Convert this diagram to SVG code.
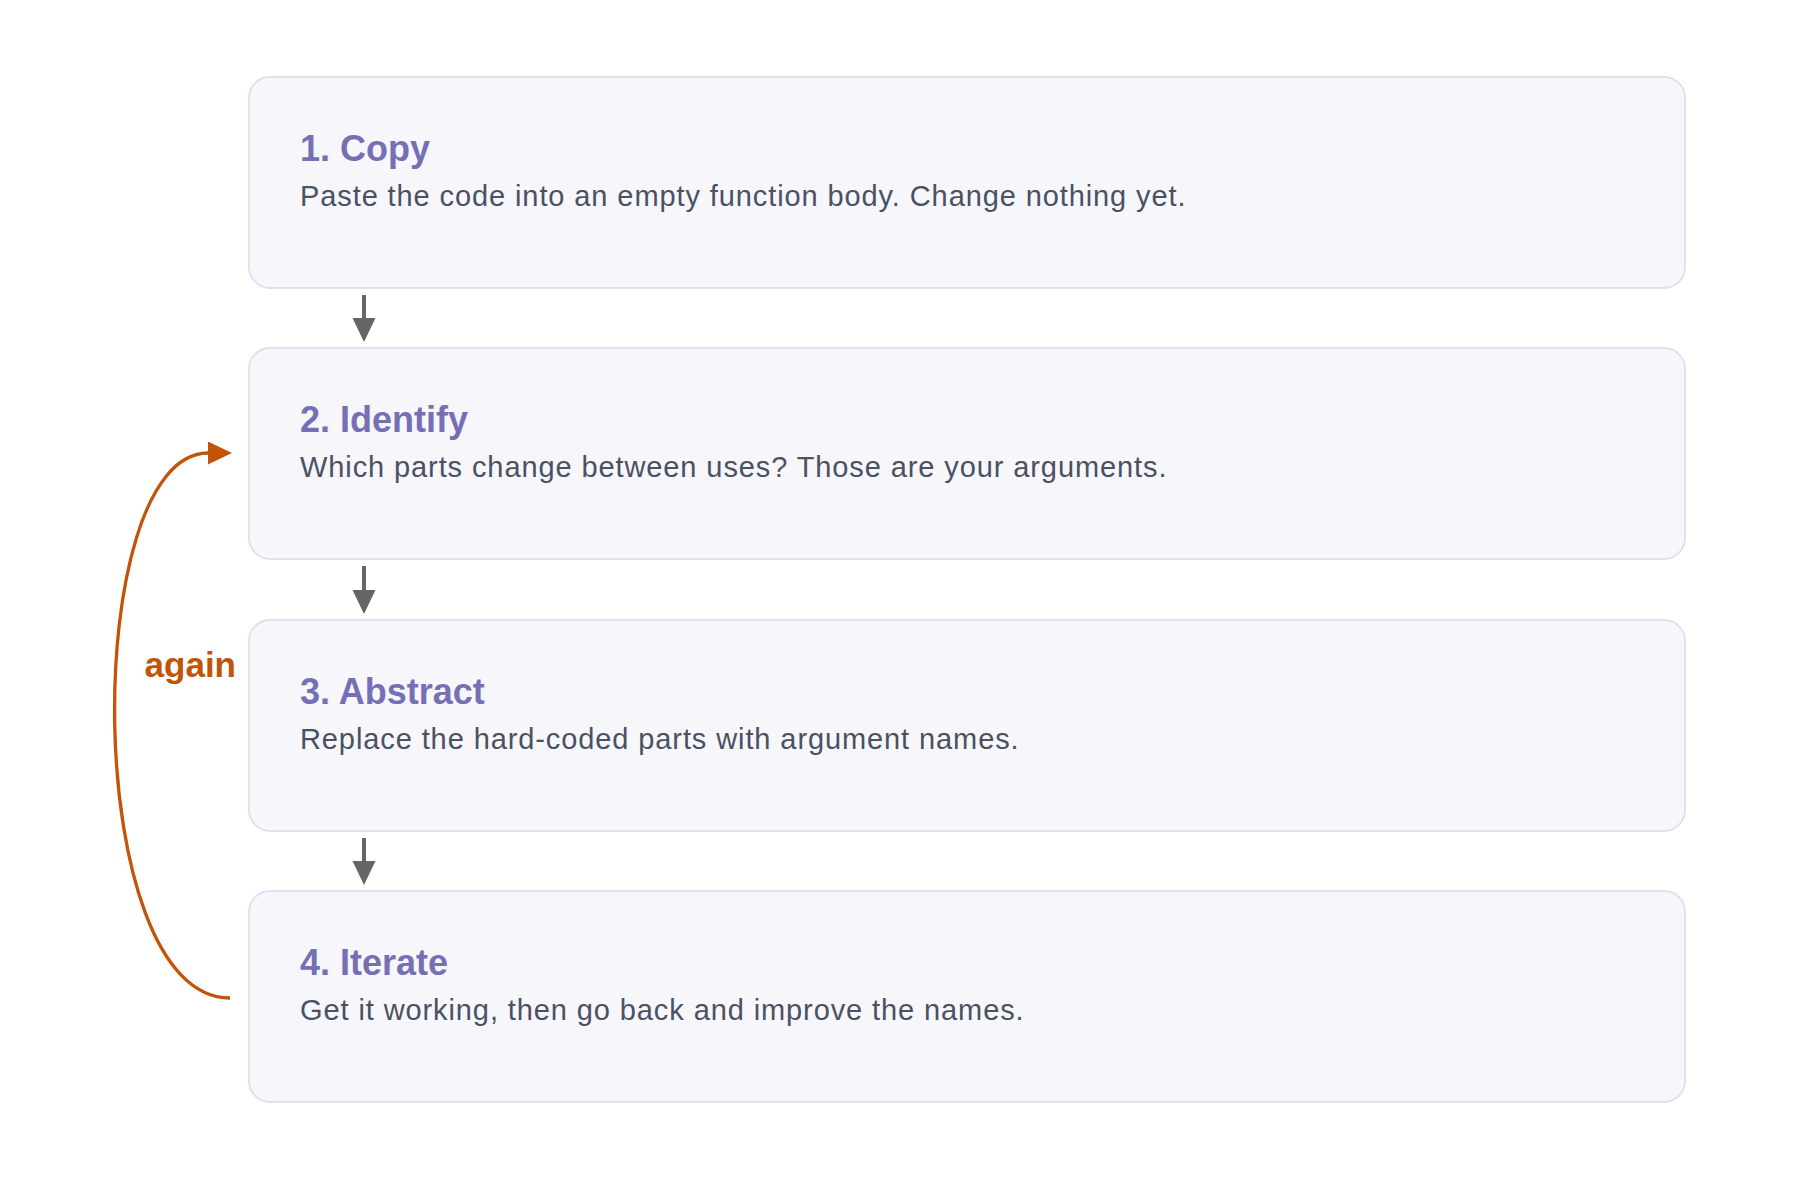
<svg xmlns="http://www.w3.org/2000/svg" width="1800" height="1187" viewBox="0 0 1800 1187">
  <style>
    .box { fill: #f6f6fb; stroke: #e1e0f0; stroke-width: 2; }
    .title { font-family: "Liberation Sans", Arial, Helvetica, sans-serif; font-size: 36px; font-weight: bold; fill: #7570b6; }
    .body { font-family: "Liberation Sans", Arial, Helvetica, sans-serif; font-size: 29px; letter-spacing: 0.9px; fill: #4a5163; }
    .flow { stroke: #666666; stroke-width: 4; fill: none; }
    .loop { stroke: #c2540a; stroke-width: 3.3; fill: none; }
    .loop-label { font-family: "Liberation Sans", Arial, Helvetica, sans-serif; font-size: 35px; font-weight: bold; fill: #c2540a; }
  </style>
  <defs>
    <marker id="arrow-gray" markerUnits="userSpaceOnUse" markerWidth="24" markerHeight="24" refX="0" refY="11.5" orient="auto">
      <path d="M0,0 L24,11.5 L0,23 Z" fill="#666666"/>
    </marker>
    <marker id="arrow-orange" markerUnits="userSpaceOnUse" markerWidth="24" markerHeight="24" refX="0" refY="11.5" orient="auto">
      <path d="M0,0 L24,11.5 L0,23 Z" fill="#c2540a"/>
    </marker>
  </defs>
  <rect width="1800" height="1187" fill="#ffffff"/>

  <g id="node-copy">
    <rect class="box" x="249" y="77" width="1436" height="211" rx="21"/>
    <text class="title" x="300" y="161">1. Copy</text>
    <text class="body" x="300" y="206">Paste the code into an empty function body. Change nothing yet.</text>
  </g>

  <g id="node-identify">
    <rect class="box" x="249" y="348" width="1436" height="211" rx="21"/>
    <text class="title" x="300" y="432">2. Identify</text>
    <text class="body" x="300" y="477">Which parts change between uses? Those are your arguments.</text>
  </g>

  <g id="node-abstract">
    <rect class="box" x="249" y="620" width="1436" height="211" rx="21"/>
    <text class="title" x="300" y="704">3. Abstract</text>
    <text class="body" x="300" y="749">Replace the hard-coded parts with argument names.</text>
  </g>

  <g id="node-iterate">
    <rect class="box" x="249" y="891" width="1436" height="211" rx="21"/>
    <text class="title" x="300" y="975">4. Iterate</text>
    <text class="body" x="300" y="1020">Get it working, then go back and improve the names.</text>
  </g>

  <g id="connectors">
    <path class="flow" d="M364,295 L364,318" marker-end="url(#arrow-gray)"/>
    <path class="flow" d="M364,566 L364,590" marker-end="url(#arrow-gray)"/>
    <path class="flow" d="M364,838 L364,861" marker-end="url(#arrow-gray)"/>
    <path class="loop" d="M230,998 C 80,998 80,453 208,453" marker-end="url(#arrow-orange)"/>
    <text class="loop-label" x="236" y="677" text-anchor="end">again</text>
  </g>
</svg>
